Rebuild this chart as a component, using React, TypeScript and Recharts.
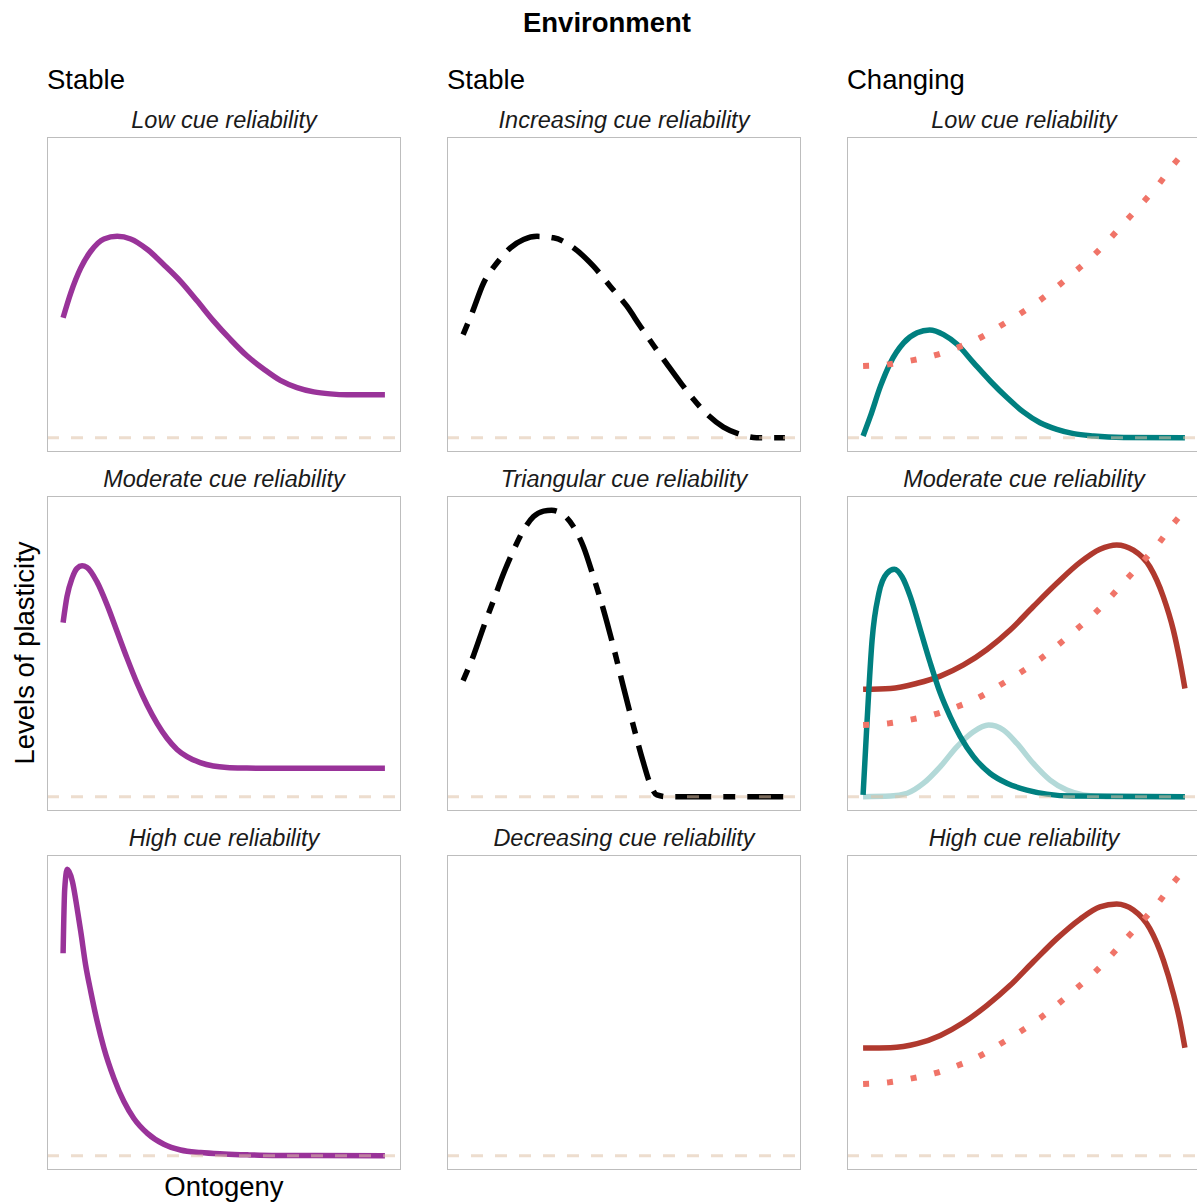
import React from 'react';
import { LineChart, Line, XAxis, YAxis, ReferenceLine } from 'recharts';

// ---------- text ----------
const mainTitle = 'Environment';
const columnHeaders = ['Stable', 'Stable', 'Changing'];
const stripTitles = [
  ['Low cue reliability', 'Increasing cue reliability', 'Low cue reliability'],
  ['Moderate cue reliability', 'Triangular cue reliability', 'Moderate cue reliability'],
  ['High cue reliability', 'Decreasing cue reliability', 'High cue reliability'],
];
const xLabel = 'Ontogeny';
const yLabel = 'Levels of plasticity';

// ---------- data (ontogeny t in [0,1], plasticity level) ----------
// Stable / low cue reliability (purple)
const stableLowT = [0, 0.024, 0.055, 0.086, 0.127, 0.168, 0.21, 0.262, 0.313, 0.365, 0.417, 0.468, 0.52, 0.572, 0.624, 0.675, 0.727, 0.779, 0.83, 0.882, 1];
const stableLowV = [0.419, 0.506, 0.593, 0.651, 0.694, 0.703, 0.694, 0.657, 0.604, 0.546, 0.477, 0.407, 0.343, 0.285, 0.239, 0.2, 0.175, 0.16, 0.153, 0.15, 0.15];

// Stable / moderate cue reliability (purple)
const stableModT = [0, 0.012, 0.028, 0.043, 0.059, 0.074, 0.105, 0.137, 0.168, 0.199, 0.23, 0.261, 0.292, 0.323, 0.354, 0.385, 0.426, 0.467, 0.509, 0.571, 0.654, 1];
const stableModV = [0.608, 0.698, 0.763, 0.797, 0.806, 0.801, 0.751, 0.669, 0.576, 0.483, 0.396, 0.32, 0.256, 0.204, 0.165, 0.14, 0.119, 0.107, 0.102, 0.1, 0.099, 0.099];

// Stable / high cue reliability (purple)
const stableHighT = [0, 0.005, 0.013, 0.029, 0.042, 0.055, 0.07, 0.086, 0.106, 0.127, 0.158, 0.189, 0.22, 0.262, 0.313, 0.365, 0.427, 0.5, 0.572, 0.65, 1];
const stableHighV = [0.707, 0.93, 1.0, 0.957, 0.875, 0.782, 0.666, 0.573, 0.468, 0.375, 0.27, 0.189, 0.13, 0.078, 0.04, 0.02, 0.011, 0.006, 0.003, 0.001, 0];

// Stable / increasing cue reliability (black, two-dash)
const increasingT = [0, 0.028, 0.064, 0.105, 0.147, 0.188, 0.23, 0.281, 0.343, 0.405, 0.457, 0.509, 0.55, 0.592, 0.633, 0.674, 0.716, 0.757, 0.809, 0.86, 0.912, 1];
const increasingV = [0.36, 0.436, 0.541, 0.61, 0.663, 0.692, 0.703, 0.698, 0.663, 0.599, 0.529, 0.459, 0.39, 0.322, 0.258, 0.195, 0.134, 0.083, 0.037, 0.012, 0, 0];

// Stable / triangular cue reliability (black, two-dash)
const triangularT = [0, 0.033, 0.064, 0.095, 0.126, 0.157, 0.188, 0.219, 0.25, 0.275, 0.3, 0.343, 0.374, 0.405, 0.436, 0.467, 0.498, 0.529, 0.56, 0.581, 0.602, 0.633, 1];
const triangularV = [0.405, 0.495, 0.594, 0.687, 0.78, 0.861, 0.931, 0.978, 0.997, 1.0, 0.993, 0.943, 0.873, 0.768, 0.654, 0.524, 0.384, 0.248, 0.12, 0.045, 0.006, 0, 0];

// Changing / cue (salmon, dotted) – same in the three changing panels
const changingCueT = [0, 0.08, 0.152, 0.224, 0.292, 0.364, 0.426, 0.488, 0.55, 0.607, 0.664, 0.721, 0.772, 0.821, 0.871, 0.92, 0.964, 1];
const changingCueV = [0.25, 0.256, 0.27, 0.288, 0.314, 0.349, 0.39, 0.433, 0.48, 0.531, 0.585, 0.642, 0.701, 0.762, 0.823, 0.887, 0.953, 1.0];

// Changing / low cue reliability (teal)
const changingLowT = [0, 0.023, 0.054, 0.085, 0.126, 0.168, 0.207, 0.25, 0.292, 0.343, 0.395, 0.447, 0.498, 0.55, 0.602, 0.654, 0.716, 0.809, 1];
const changingLowV = [0.006, 0.076, 0.18, 0.262, 0.331, 0.366, 0.376, 0.36, 0.326, 0.262, 0.198, 0.14, 0.09, 0.052, 0.029, 0.014, 0.006, 0.001, 0];

// Changing / moderate cue reliability
const changingModRedT = [0, 0.085, 0.168, 0.24, 0.312, 0.385, 0.457, 0.529, 0.602, 0.674, 0.736, 0.788, 0.84, 0.891, 0.933, 0.964, 0.984, 1];
const changingModRedV = [0.375, 0.378, 0.396, 0.421, 0.46, 0.514, 0.582, 0.664, 0.745, 0.818, 0.864, 0.879, 0.861, 0.803, 0.698, 0.582, 0.477, 0.378];
const changingModTealT = [0, 0.012, 0.028, 0.049, 0.074, 0.097, 0.121, 0.147, 0.178, 0.209, 0.24, 0.271, 0.302, 0.343, 0.395, 0.447, 0.509, 0.571, 0.654, 1];
const changingModTealV = [0.006, 0.256, 0.547, 0.71, 0.78, 0.794, 0.768, 0.698, 0.582, 0.466, 0.361, 0.279, 0.21, 0.14, 0.081, 0.047, 0.023, 0.009, 0.002, 0];
const changingModLightT = [0, 0.085, 0.137, 0.188, 0.24, 0.292, 0.343, 0.39, 0.436, 0.478, 0.529, 0.581, 0.633, 0.685, 0.757, 1];
const changingModLightV = [0, 0.002, 0.012, 0.047, 0.105, 0.175, 0.227, 0.25, 0.233, 0.186, 0.116, 0.058, 0.023, 0.006, 0, 0];

// Changing / high cue reliability (dark red)
const changingHighT = [0, 0.085, 0.168, 0.24, 0.312, 0.385, 0.457, 0.529, 0.602, 0.674, 0.736, 0.788, 0.84, 0.891, 0.933, 0.964, 0.984, 1];
const changingHighV = [0.376, 0.377, 0.391, 0.42, 0.465, 0.525, 0.595, 0.677, 0.758, 0.826, 0.869, 0.879, 0.858, 0.793, 0.683, 0.566, 0.473, 0.377];

// ---------- styling ----------
const FONT = '"Liberation Sans", Arial, Helvetica, sans-serif';
const PURPLE = '#993399';
const BLACK = '#000000';
const TEAL = '#008080';
const LIGHT_TEAL = '#B3D9D8';
const DARK_RED = '#B0392E';
const SALMON = '#F07468';
const TWODASH = '12 12 36 12';
const DOTTED = '6 18';
const SOLID_W = 5.5;
const BORDER = '1px solid #bdbdbd';

const PANEL_W = 354;
const PANEL_H = 315;
const LEFTS = [47, 447, 847];
const TOPS = [137, 496, 855];

type Pt = { x: number; y: number };
const zip = (xs: number[], ys: number[]): Pt[] => xs.map((x, i) => ({ x, y: ys[i] }));

interface Spec { data: Pt[]; color: string; width: number; dash?: string }

const panels: Spec[][][] = [
  [
    [{ data: zip(stableLowT, stableLowV), color: PURPLE, width: SOLID_W }],
    [{ data: zip(increasingT, increasingV), color: BLACK, width: 5.5, dash: TWODASH }],
    [
      { data: zip(changingLowT, changingLowV), color: TEAL, width: SOLID_W },
      { data: zip(changingCueT, changingCueV), color: SALMON, width: 6, dash: DOTTED },
    ],
  ],
  [
    [{ data: zip(stableModT, stableModV), color: PURPLE, width: SOLID_W }],
    [{ data: zip(triangularT, triangularV), color: BLACK, width: 5.5, dash: TWODASH }],
    [
      { data: zip(changingModRedT, changingModRedV), color: DARK_RED, width: SOLID_W },
      { data: zip(changingModLightT, changingModLightV), color: LIGHT_TEAL, width: SOLID_W },
      { data: zip(changingModTealT, changingModTealV), color: TEAL, width: SOLID_W },
      { data: zip(changingCueT, changingCueV), color: SALMON, width: 6, dash: DOTTED },
    ],
  ],
  [
    [{ data: zip(stableHighT, stableHighV), color: PURPLE, width: SOLID_W }],
    [],
    [
      { data: zip(changingHighT, changingHighV), color: DARK_RED, width: SOLID_W },
      { data: zip(changingCueT, changingCueV), color: SALMON, width: 6, dash: DOTTED },
    ],
  ],
];

function Panel({ left, top, series, clipRight }: { left: number; top: number; series: Spec[]; clipRight: boolean }) {
  return (
    <div style={{ position: 'absolute', left, top, width: PANEL_W, height: PANEL_H }}>
      <LineChart width={PANEL_W} height={PANEL_H} margin={{ top: 0, right: 0, bottom: 0, left: 0 }}>
        <XAxis type="number" dataKey="x" domain={[-0.05, 1.05]} allowDataOverflow hide />
        <YAxis type="number" domain={[-0.05, 1.05]} allowDataOverflow hide />
        {series.map((s, i) => (
          <Line
            key={i}
            data={s.data}
            dataKey="y"
            type="monotone"
            stroke={s.color}
            strokeWidth={s.width}
            strokeDasharray={s.dash}
            strokeLinecap="butt"
            dot={false}
            activeDot={false}
            isAnimationActive={false}
          />
        ))}
        <ReferenceLine y={0} stroke="#DFC1A5" strokeOpacity={0.55} strokeWidth={3} strokeDasharray="12 12" />
      </LineChart>
      <div
        style={{
          position: 'absolute',
          left: 0,
          top: 0,
          width: PANEL_W,
          height: PANEL_H,
          borderLeft: BORDER,
          borderTop: BORDER,
          borderBottom: BORDER,
          borderRight: clipRight ? 'none' : BORDER,
          boxSizing: 'border-box',
          pointerEvents: 'none',
        }}
      />
    </div>
  );
}

export default function App() {
  const stripBaselines = [128, 487, 846];
  return (
    <div
      style={{
        position: 'absolute',
        left: 0,
        top: 0,
        width: 1197,
        height: 1203,
        overflow: 'hidden',
        background: '#ffffff',
        fontFamily: FONT,
      }}
    >
      {panels.map((row, r) =>
        row.map((series, c) => (
          <Panel key={`${r}-${c}`} left={LEFTS[c]} top={TOPS[r]} series={series} clipRight={c === 2} />
        ))
      )}
      <svg
        width={1197}
        height={1203}
        style={{ position: 'absolute', left: 0, top: 0, pointerEvents: 'none' }}
        fontFamily={FONT}
      >
        <text x={607} y={32} textAnchor="middle" fontSize={27.5} fontWeight="bold" fill="#000">
          {mainTitle}
        </text>
        {columnHeaders.map((h, c) => (
          <text key={h + c} x={LEFTS[c]} y={89} fontSize={27.5} fill="#000">
            {h}
          </text>
        ))}
        {stripTitles.map((row, r) =>
          row.map((t, c) => (
            <text
              key={`${r}-${c}`}
              x={LEFTS[c] + PANEL_W / 2}
              y={stripBaselines[r]}
              textAnchor="middle"
              fontSize={23.5}
              fontStyle="italic"
              fill="#1a1a1a"
            >
              {t}
            </text>
          ))
        )}
        <text x={224} y={1196} textAnchor="middle" fontSize={27.5} fill="#000">
          {xLabel}
        </text>
        <text x={34} y={653} textAnchor="middle" fontSize={27.5} fill="#000" transform="rotate(-90 34 653)">
          {yLabel}
        </text>
      </svg>
    </div>
  );
}
